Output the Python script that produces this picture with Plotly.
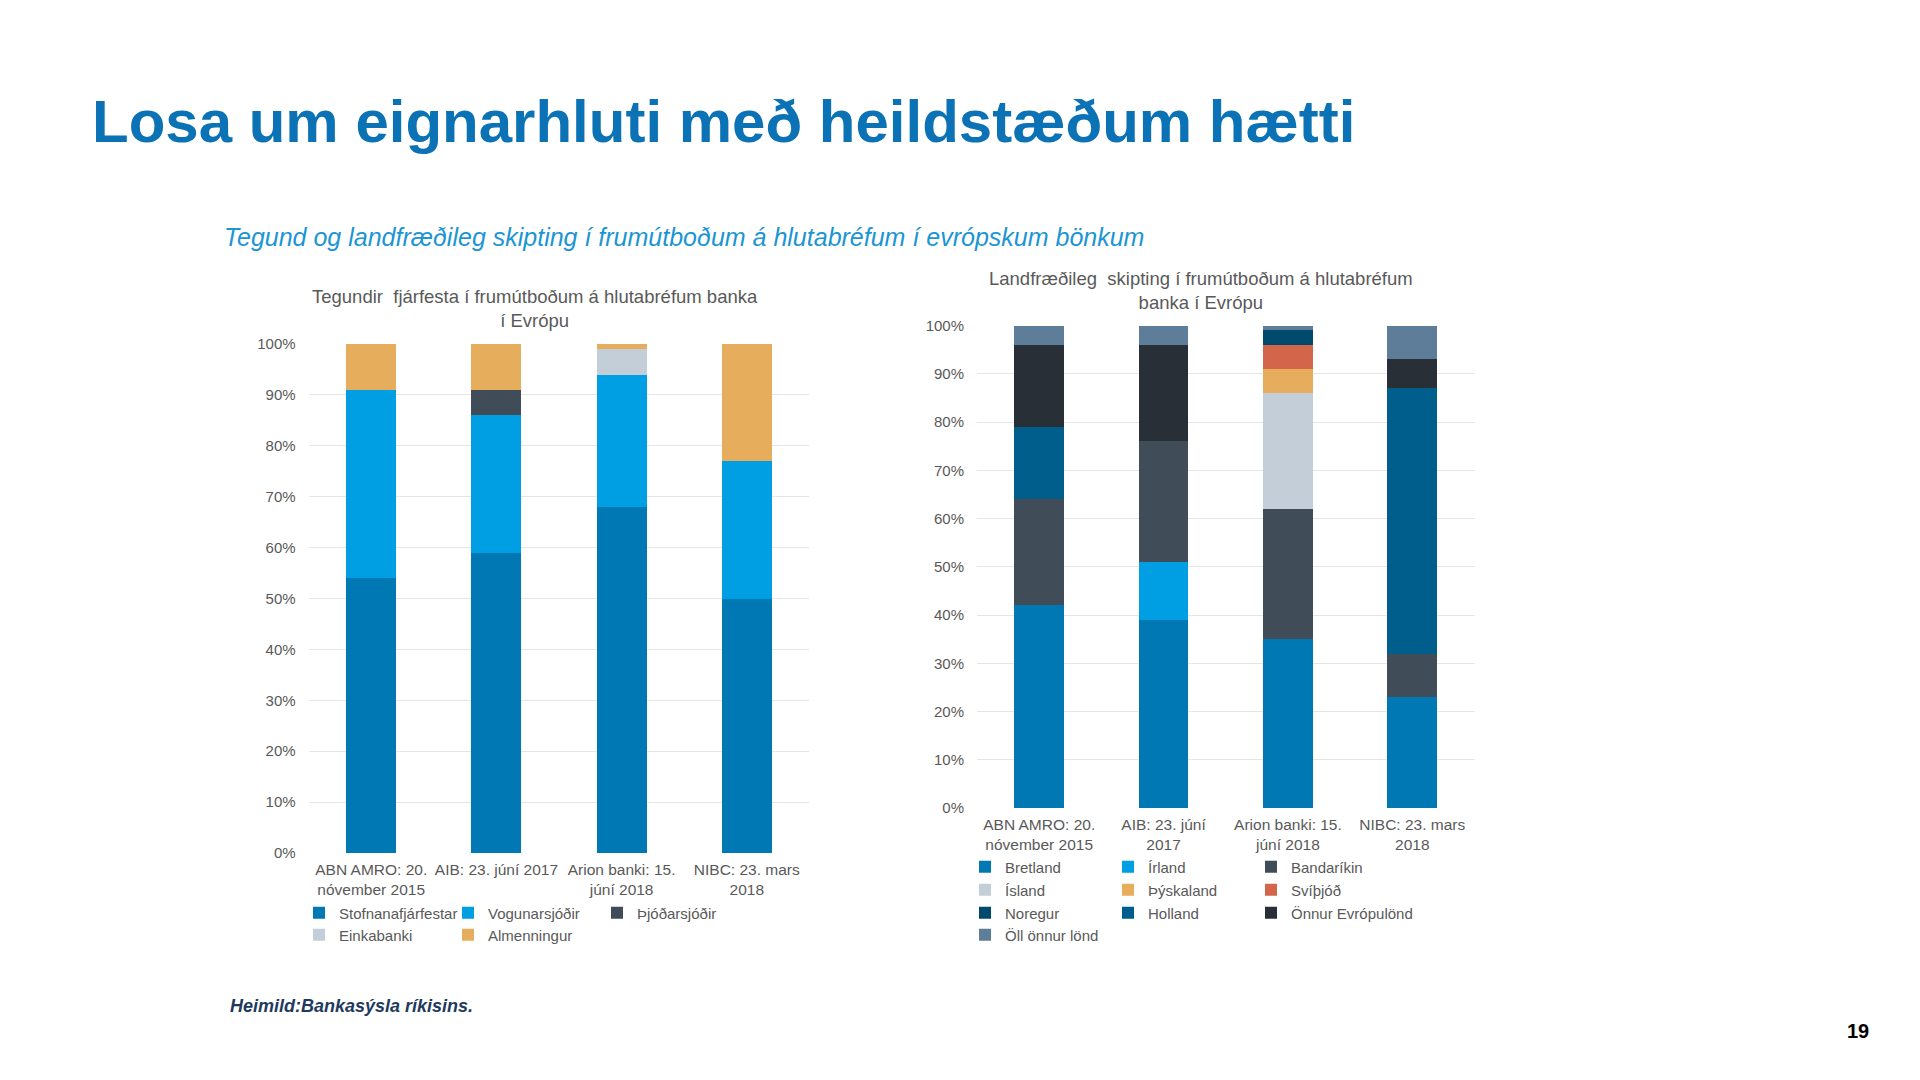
import plotly.graph_objects as go

W, H = 1920, 1080

# ---------------- data ----------------
left_categories = ["ABN AMRO: 20.<br>nóvember 2015", "AIB: 23. júní 2017",
                   "Arion banki: 15.<br>júní 2018", "NIBC: 23. mars<br>2018"]
right_categories = ["ABN AMRO: 20.<br>nóvember 2015", "AIB: 23. júní<br>2017",
                    "Arion banki: 15.<br>júní 2018", "NIBC: 23. mars<br>2018"]

# Left chart: investor types (%)
stofnanafjarfestar = [54, 59, 68, 50]
vogunarsjodir = [37, 27, 26, 27]
thjodarsjodir = [0, 5, 0, 0]
einkabanki = [0, 0, 5, 0]
almenningur = [9, 9, 1, 23]

# Right chart: geographic split (%)
bretland = [42, 39, 35, 23]
irland = [0, 12, 0, 0]
bandarikin = [22, 25, 27, 9]
island = [0, 0, 24, 0]
thyskaland = [0, 0, 5, 0]
svithjod = [0, 0, 5, 0]
noregur = [0, 0, 3, 0]
holland = [15, 0, 0, 55]
onnur_evropulond = [17, 20, 0, 6]
oll_onnur_lond = [4, 4, 1, 7]

y_tick_values = [0, 10, 20, 30, 40, 50, 60, 70, 80, 90, 100]
y_tick_labels = ["0%", "10%", "20%", "30%", "40%", "50%", "60%", "70%", "80%", "90%", "100%"]

# ---------------- styling ----------------
C_STOFN = "#0078B4"
C_VOG = "#009FE3"
C_THJOD = "#414C59"
C_EINKA = "#C3CED9"
C_ALM = "#E6AE5C"
C_SVI = "#D3664A"
C_NOR = "#004A6E"
C_HOL = "#005E8C"
C_ONN = "#282F37"
C_OLL = "#5E7D99"

FONT = "Liberation Sans, Arial, sans-serif"
GRAY = "#595959"


def px_x(p):
    return p / W


def px_y(p):
    return 1 - p / H


fig = go.Figure()

left_series = [
    ("Stofnanafjárfestar", stofnanafjarfestar, C_STOFN, "legend"),
    ("Vogunarsjóðir", vogunarsjodir, C_VOG, "legend"),
    ("Þjóðarsjóðir", thjodarsjodir, C_THJOD, "legend"),
    ("Einkabanki", einkabanki, C_EINKA, "legend2"),
    ("Almenningur", almenningur, C_ALM, "legend2"),
]
for name, vals, col, leg in left_series:
    fig.add_trace(go.Bar(x=left_categories, y=vals, name=name, marker_color=col,
                         marker_line_width=0, xaxis="x", yaxis="y", legend=leg))

right_series = [
    ("Bretland", bretland, C_STOFN, "legend3"),
    ("Írland", irland, C_VOG, "legend3"),
    ("Bandaríkin", bandarikin, C_THJOD, "legend3"),
    ("Ísland", island, C_EINKA, "legend4"),
    ("Þýskaland", thyskaland, C_ALM, "legend4"),
    ("Svíþjóð", svithjod, C_SVI, "legend4"),
    ("Noregur", noregur, C_NOR, "legend5"),
    ("Holland", holland, C_HOL, "legend5"),
    ("Önnur Evrópulönd", onnur_evropulond, C_ONN, "legend7"),
    ("Öll önnur lönd", oll_onnur_lond, C_OLL, "legend6"),
]
for name, vals, col, leg in right_series:
    fig.add_trace(go.Bar(x=right_categories, y=vals, name=name, marker_color=col,
                         marker_line_width=0, xaxis="x2", yaxis="y2", legend=leg))

yaxis_common = dict(range=[0, 100], tickmode="array", tickvals=y_tick_values,
                    ticktext=y_tick_labels,
                    showgrid=True, gridcolor="#E6E6E6", gridwidth=1,
                    zeroline=False, showline=False, ticks="",
                    tickfont=dict(family=FONT, size=15, color=GRAY),
                    ticklabelstandoff=12, fixedrange=True, automargin=False)
xaxis_common = dict(showgrid=False, zeroline=False, showline=False, ticks="",
                    tickfont=dict(family=FONT, size=15.5, color=GRAY),
                    tickangle=0, ticklabelstandoff=5, fixedrange=True, automargin=False)


def legend_at(x, y, ew):
    return dict(orientation="h", x=px_x(x), y=px_y(y), xanchor="left", yanchor="middle",
                traceorder="normal", entrywidth=ew, entrywidthmode="pixels",
                font=dict(family=FONT, size=15, color=GRAY), itemwidth=30,
                bgcolor="rgba(0,0,0,0)", borderwidth=0, tracegroupgap=0)


fig.update_layout(
    width=W, height=H,
    margin=dict(l=0, r=0, t=0, b=0, pad=0, autoexpand=False),
    paper_bgcolor="white", plot_bgcolor="white",
    barmode="stack", bargap=0.6,
    showlegend=True,
    xaxis=dict(domain=[px_x(308.6), px_x(809.4)], anchor="y", **xaxis_common),
    yaxis=dict(domain=[px_y(853), px_y(344)], anchor="x", **yaxis_common),
    xaxis2=dict(domain=[px_x(977), px_x(1474.5)], anchor="y2", **xaxis_common),
    yaxis2=dict(domain=[px_y(808), px_y(325.5)], anchor="x2", **yaxis_common),
    legend=legend_at(299, 913, 104),
    legend2=legend_at(299, 935, 104),
    legend3=legend_at(965, 867, 98),
    legend4=legend_at(965, 890, 98),
    legend5=legend_at(965, 913, 98),
    legend7=legend_at(965 + 2 * 143, 913, 0),
    legend6=legend_at(965, 935, 98),
    font=dict(family=FONT, color=GRAY),
)

annotations = [
    dict(text="<b>Losa um eignarhluti með heildstæðum hætti</b>", x=px_x(90), y=px_y(122),
         font=dict(family=FONT, size=60, color="#0B73B5")),
    dict(text="<i>Tegund og landfræðileg skipting í frumútboðum á hlutabréfum í evrópskum bönkum</i>",
         x=px_x(222), y=px_y(237),
         font=dict(family=FONT, size=25, color="#1B95D3")),
    dict(text="Tegundir  fjárfesta í frumútboðum á hlutabréfum banka<br>í Evrópu",
         x=px_x(535), y=px_y(308), xanchor="center",
         font=dict(family=FONT, size=18.5, color=GRAY)),
    dict(text="Landfræðileg  skipting í frumútboðum á hlutabréfum<br>banka í Evrópu",
         x=px_x(1201), y=px_y(290), xanchor="center",
         font=dict(family=FONT, size=18.5, color=GRAY)),
    dict(text="<b><i>Heimild:Bankasýsla ríkisins.</i></b>", x=px_x(228), y=px_y(1006),
         font=dict(family=FONT, size=18, color="#1F3A5F")),
    dict(text="<b>19</b>", x=px_x(1871), y=px_y(1031), xanchor="right",
         font=dict(family=FONT, size=20, color="#000000")),
]
for a in annotations:
    a.setdefault("xanchor", "left")
    a.update(xref="paper", yref="paper", yanchor="middle", showarrow=False)
fig.update_layout(annotations=annotations)

fig.write_html("out.html", config={"displayModeBar": False},
               post_script="document.body.style.margin='0';document.body.style.overflow='hidden';")
